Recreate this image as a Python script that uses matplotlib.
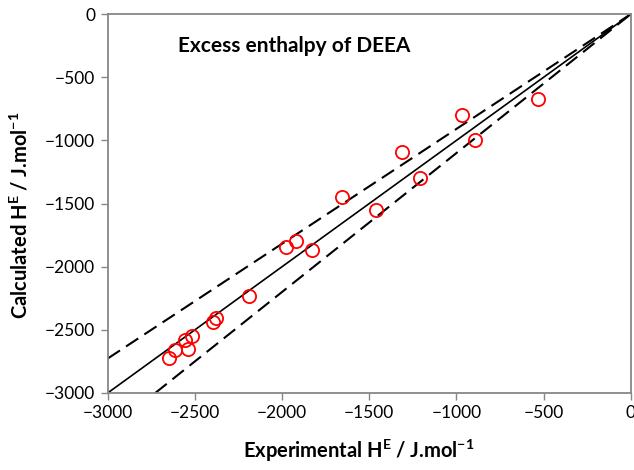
import numpy as np
import matplotlib
matplotlib.use("Agg")
from matplotlib import pyplot as plt

plt.rcParams['font.family'] = ['Lato', 'DejaVu Sans']
plt.rcParams['mathtext.fontset'] = 'custom'
plt.rcParams['mathtext.rm'] = 'Lato'
plt.rcParams['mathtext.bf'] = 'Lato:bold'

# data
h_exp = [-2650, -2613, -2555, -2518, -2539, -2397, -2381, -2191, -1978, -1922,
         -1829, -1655, -1463, -1310, -1208, -967, -895, -533]
h_calc = [-2722, -2662, -2583, -2551, -2656, -2437, -2403, -2231, -1846, -1796,
          -1867, -1447, -1553, -1091, -1297, -803, -998, -676]

ticks = [-3000, -2500, -2000, -1500, -1000, -500, 0]
parity = [-3000, 0]
factor = 1.1    # +/- 10 % lines

fig = plt.figure(figsize=(6.34, 4.70), dpi=100)
ax = fig.add_axes([0.170, 0.164, 0.825, 0.806])

xx = np.array(parity, dtype=float)
ax.plot(xx, xx, color='black', lw=1.2)
ax.plot(xx, xx / factor, color='black', lw=1.5, dashes=(7, 3.5))
ax.plot(xx / factor, xx, color='black', lw=1.5, dashes=(7, 3.5))

ax.plot(h_exp, h_calc, 'o', mfc='none', mec='red', ms=9.5, mew=1.3)

ax.set_xlim(-3000, 0)
ax.set_ylim(-3000, 0)
ax.set_xticks(ticks)
ax.set_yticks(ticks)
ax.tick_params(direction='out', length=5, width=1, color='#878787',
               labelsize=12.5, pad=4)
for sp in ax.spines.values():
    sp.set_color('#878787')
    sp.set_linewidth(1.3)

ax.set_xlabel(r'Experimental H$^{\mathbf{E}}$ / J.mol$^{\mathbf{-1}}$',
              fontsize=14.5, fontweight='bold', labelpad=12)
ax.set_ylabel(r'Calculated H$^{\mathbf{E}}$ / J.mol$^{\mathbf{-1}}$',
              fontsize=14.5, fontweight='bold', labelpad=10)
ax.xaxis.label.set_x(0.48)
ax.yaxis.label.set_y(0.47)

ax.text(0.134, 0.916, 'Excess enthalpy of DEEA', transform=ax.transAxes,
        fontsize=15, fontweight='bold', va='center', ha='left')

fig.savefig('out.png', dpi=100)
